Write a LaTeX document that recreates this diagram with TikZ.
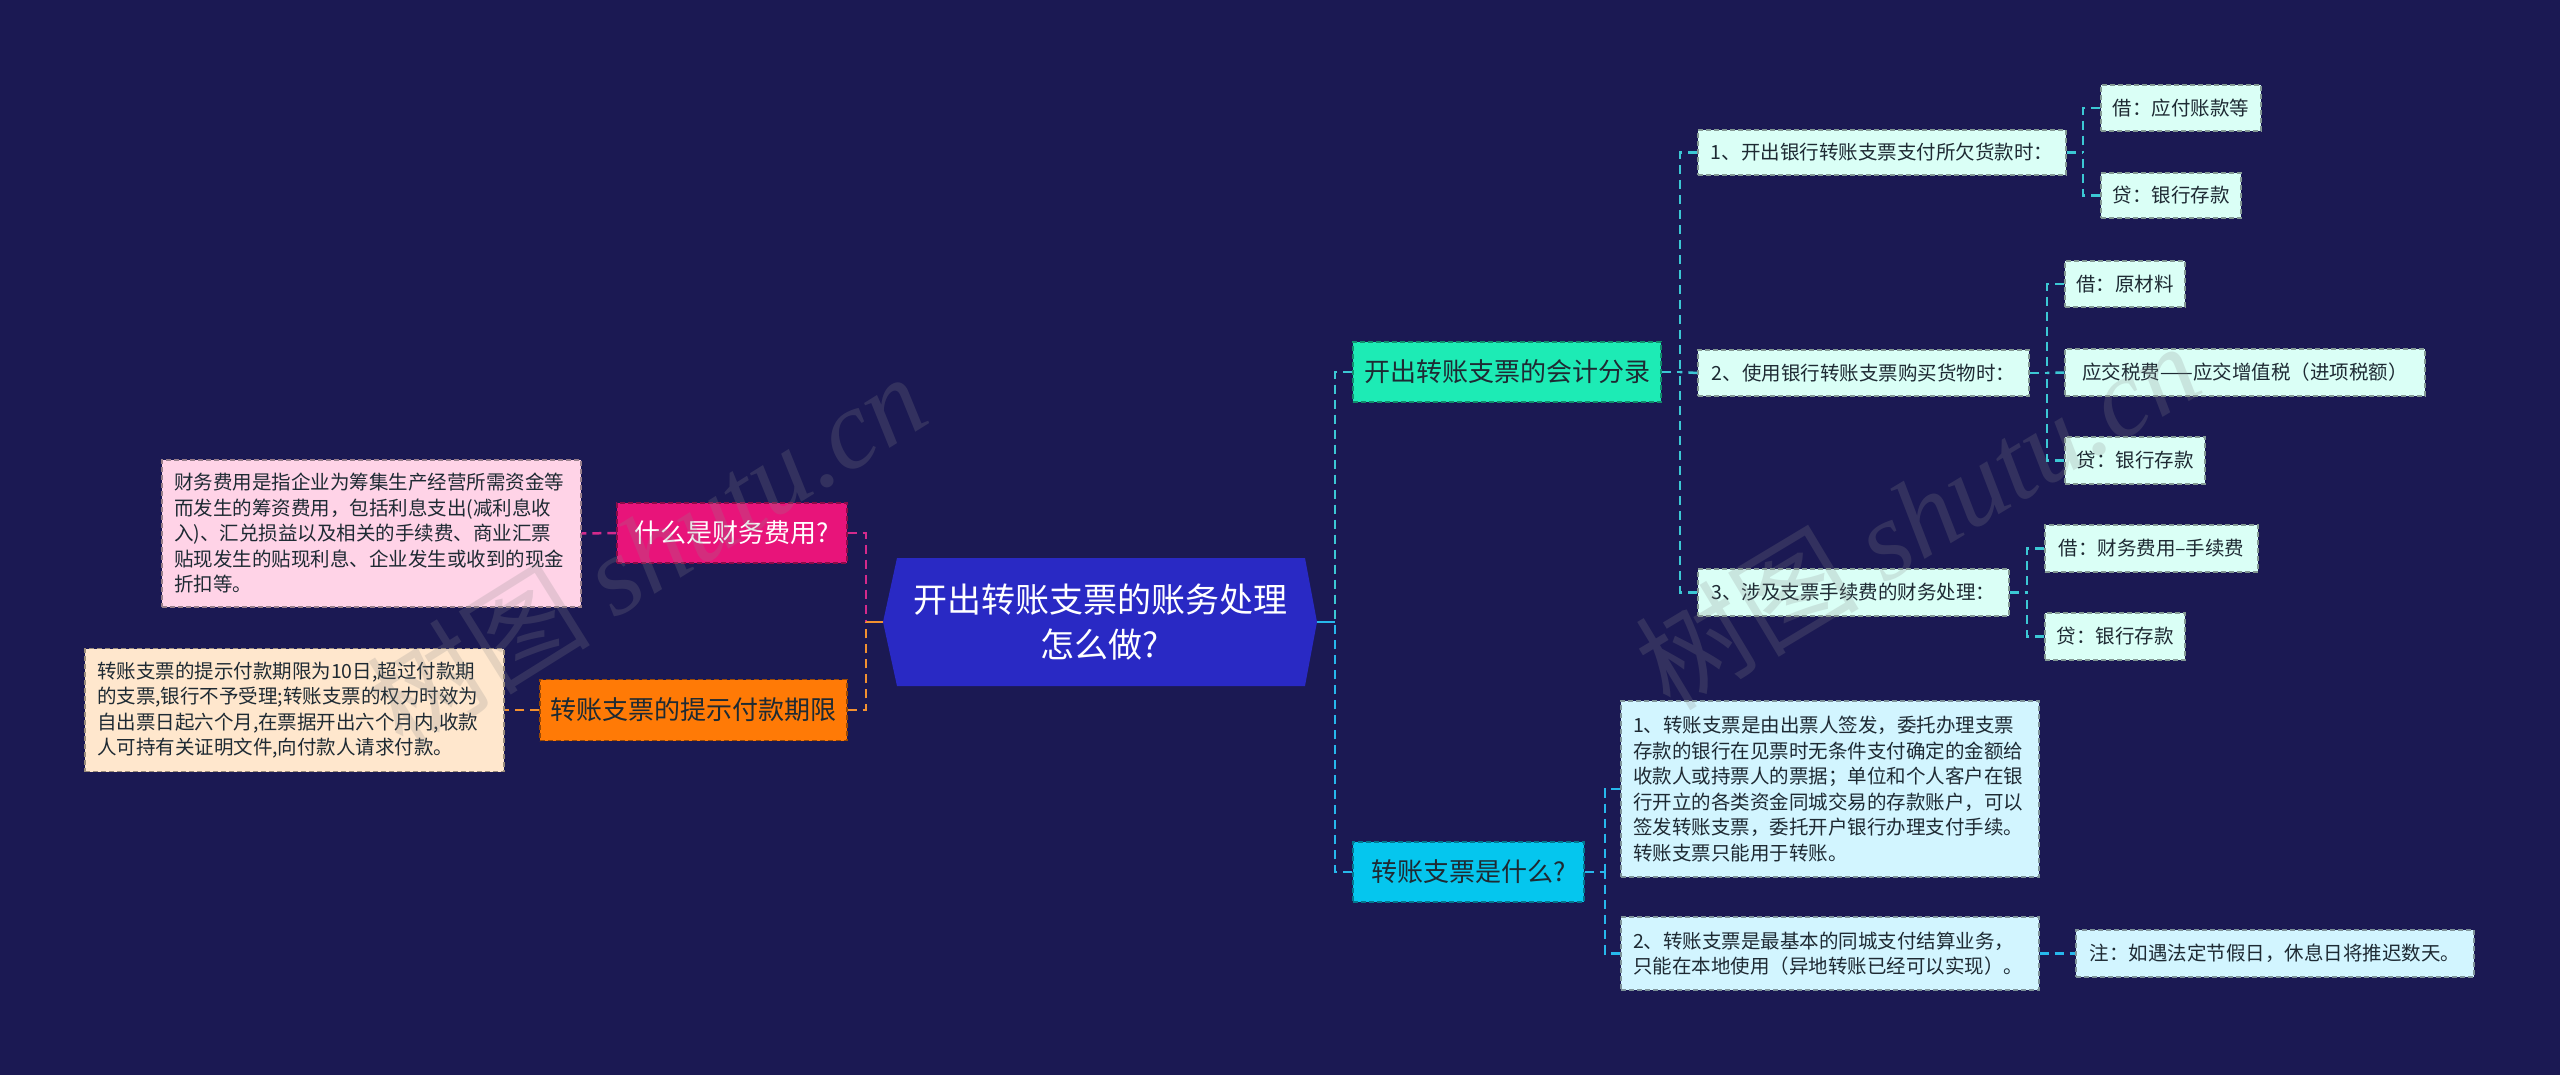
\documentclass[tikz,border=0pt]{standalone}
\usepackage{fontspec}
\setmainfont{Noto Sans CJK SC}
\newfontfamily\wmfont{Liberation Serif}
\definecolor{bg}{HTML}{1B1953}
\definecolor{cfill}{HTML}{2929C4}
\definecolor{pinkfill}{HTML}{E8147A}
\definecolor{pinkline}{HTML}{D42A8C}
\definecolor{orangefill}{HTML}{FF7A06}
\definecolor{orangeline}{HTML}{F39130}
\definecolor{tealfill}{HTML}{1DEBB5}
\definecolor{tealline}{HTML}{3CC8D4}
\definecolor{bluefill}{HTML}{05C6EE}
\definecolor{blueline}{HTML}{27B8EC}
\definecolor{mint}{HTML}{DAFFF6}
\definecolor{lcyan}{HTML}{D2F5FF}
\definecolor{pinkdesc}{HTML}{FFD3E7}
\definecolor{peach}{HTML}{FFE7CD}
\definecolor{darktxt}{HTML}{1E2A33}
\definecolor{wmgray}{HTML}{8A8A8A}
\tikzset{
  bx/.style={fill=#1, draw=#1!60!black, dashed, dash pattern=on 5pt off 3pt, line width=1.3pt, inner sep=0pt, text=darktxt},
  small/.style={font=\fontsize{19.5}{25.5}\selectfont},
  big/.style={font=\fontsize{26}{31}\selectfont},
  leaf/.style={bx=#1, small, minimum height=46},
  desc/.style={bx=#1, small, align=left, inner xsep=12pt},
  conn/.style={draw=#1, line width=2.5pt, dash pattern=on 9pt off 6pt},
  solidconn/.style={draw=#1, line width=2.5pt},
  wm/.style={text=wmgray, opacity=0.22, font=\fontsize{112}{118}\selectfont}
}
\begin{document}
\begin{tikzpicture}[x=1pt,y=-1pt]
\useasboundingbox (0,0) rectangle (2560,1075);
\fill[bg] (0,0) rectangle (2560,1075);

% central node
\fill[cfill] (883,622) -- (897,558) -- (1305,558) -- (1317,622) -- (1305,686) -- (897,686) -- cycle;
\node[minimum width=434, minimum height=128, inner sep=0pt, align=center, text=white,
      font=\fontsize{34}{45}\selectfont] (c) at (1100,622) {开出转账支票的账务处理\\怎么做?};

% left side
\node[bx=pinkfill, big, text=white, minimum width=230, minimum height=60] (q1) at (732,533) {什么是财务费用?};
\node[bx=orangefill, big, text=darktxt, minimum width=307, minimum height=61] (q2) at (693.5,710) {转账支票的提示付款期限};
\node[desc=pinkdesc, text width=395, minimum height=147] (d1) at (371.5,533.5)
  {财务费用是指企业为筹集生产经营所需资金等\\而发生的筹资费用，包括利息支出(减利息收\\入)、汇兑损益以及相关的手续费、商业汇票\\贴现发生的贴现利息、企业发生或收到的现金\\折扣等。};
\node[desc=peach, text width=395, minimum height=123] (d2) at (294.5,710)
  {转账支票的提示付款期限为10日,超过付款期\\的支票,银行不予受理;转账支票的权力时效为\\自出票日起六个月,在票据开出六个月内,收款\\人可持有关证明文件,向付款人请求付款。};

% right level 1
\node[bx=tealfill, big, minimum width=308, minimum height=60] (r1) at (1507,372) {开出转账支票的会计分录};
\node[bx=bluefill, big, minimum width=231, minimum height=60] (r2) at (1468.5,872) {转账支票是什么?};

% level 2
\node[leaf=mint, minimum width=368, minimum height=45] (a1) at (1882,152.5) {1、开出银行转账支票支付所欠货款时：};
\node[leaf=mint, minimum width=331] (a2) at (1863.5,373) {2、使用银行转账支票购买货物时：};
\node[leaf=mint, minimum width=311, minimum height=47] (a3) at (1853.5,592.5) {3、涉及支票手续费的财务处理：};

% level 3
\node[leaf=mint, minimum width=160] (b11) at (2181,108) {借：应付账款等};
\node[leaf=mint, minimum width=140, minimum height=45] (b12) at (2171,195.5) {贷：银行存款};
\node[leaf=mint, minimum width=120] (b21) at (2125,284) {借：原材料};
\node[leaf=mint, minimum width=360, minimum height=47] (b22) at (2245,372.5) {应交税费——应交增值税（进项税额）};
\node[leaf=mint, minimum width=140, minimum height=47] (b23) at (2135,460.5) {贷：银行存款};
\node[leaf=mint, minimum width=213, minimum height=47] (b31) at (2151.5,548.5) {借：财务费用–手续费};
\node[leaf=mint, minimum width=140, minimum height=47] (b32) at (2115,636.5) {贷：银行存款};

% lower right
\node[desc=lcyan, text width=394, minimum height=176] (e1) at (1830,789)
  {1、转账支票是由出票人签发，委托办理支票\\存款的银行在见票时无条件支付确定的金额给\\收款人或持票人的票据；单位和个人客户在银\\行开立的各类资金同城交易的存款账户，可以\\签发转账支票，委托开户银行办理支付手续。\\转账支票只能用于转账。};
\node[desc=lcyan, text width=394, minimum height=73] (e2) at (1830,953.5)
  {2、转账支票是最基本的同城支付结算业务，\\只能在本地使用（异地转账已经可以实现）。};
\node[leaf=lcyan, minimum width=398, minimum height=47] (n1) at (2275,953.5) {注：如遇法定节假日，休息日将推迟数天。};

% junction coordinates
\coordinate (lj) at (866,622);
\coordinate (rj) at (1335,622);
\coordinate (j1) at (1680,372);
\coordinate (ja1) at (2083,152.5);
\coordinate (ja2) at (2047,373);
\coordinate (ja3) at (2027,592.5);
\coordinate (j2) at (1605,872);

% left connectors
\draw[conn=pinkline] (q1.east) -| (lj);
\draw[conn=orangeline] (q2.east) -| (lj);
\draw[solidconn=orangeline] (c.west) -- (lj);
\draw[conn=pinkline] (q1.west) -- (d1.east);
\draw[conn=orangeline] (q2.west) -- (d2.east);

% right connectors
\draw[conn=tealline] (r1.west) -| (rj);
\draw[conn=blueline] (r2.west) -| (rj);
\draw[solidconn=blueline] (c.east) -- (rj);

\draw[conn=tealline] (r1.east) -- (j1);
\draw[conn=tealline] (a1.west) -| (j1);
\draw[conn=tealline] (a2.west) -- (j1);
\draw[conn=tealline] (a3.west) -| (j1);

\draw[conn=tealline] (a1.east) -- (ja1);
\draw[conn=tealline] (b11.west) -| (ja1);
\draw[conn=tealline] (b12.west) -| (ja1);

\draw[conn=tealline] (a2.east) -- (ja2);
\draw[conn=tealline] (b21.west) -| (ja2);
\draw[conn=tealline] (b22.west) -- (ja2);
\draw[conn=tealline] (b23.west) -| (ja2);

\draw[conn=tealline] (a3.east) -- (ja3);
\draw[conn=tealline] (b31.west) -| (ja3);
\draw[conn=tealline] (b32.west) -| (ja3);

\draw[conn=blueline] (r2.east) -- (j2);
\draw[conn=blueline] (e1.west) -| (j2);
\draw[conn=blueline] (e2.west) -| (j2);
\draw[conn=blueline] (e2.east) -- (n1.west);

% watermarks
\node[wm, rotate=32] (wm1) at (646,550) {树图 {\wmfont\itshape shutu.cn}};
\node[wm, rotate=31] (wm2) at (1917,515) {树图 {\wmfont\itshape shutu.cn}};
\end{tikzpicture}
\end{document}
